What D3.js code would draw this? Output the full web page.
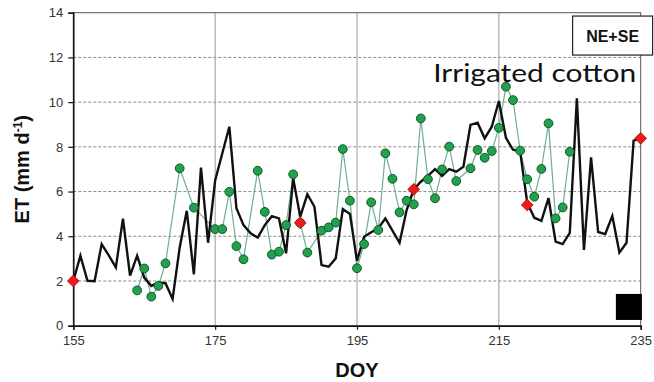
<!DOCTYPE html>
<html>
<head>
<meta charset="utf-8">
<script src="https://cdn.jsdelivr.net/npm/d3@7"></script>
<style>
	body { margin: 0; background: #fff; }
	.tick-label { font-family: "Liberation Sans", Arial, sans-serif; font-size: 13px; fill: #333; }
	.axis-label { font-family: "Liberation Sans", Arial, sans-serif; font-weight: bold; font-size: 20px; fill: #111; }
</style>
</head>
<body>
<div id="chart"></div>
<script>
// daily ET (black line)
const lineDays = [155, 156, 157, 158, 159, 160, 161, 162, 163, 164, 165, 166, 167, 168, 169, 170, 171, 172, 173, 174,
	175, 176, 177, 178, 179, 180, 181, 182, 183, 184, 185, 186, 187, 188, 189, 190, 191, 192, 193, 194,
	195, 196, 197, 198, 199, 200, 201, 202, 203, 204, 205, 206, 207, 208, 209, 210, 211, 212, 213, 214,
	215, 216, 217, 218, 219, 220, 221, 222, 223, 224, 225, 226, 227, 228, 229, 230, 231, 232, 233, 234, 235];
const lineET = [2.0, 3.13, 2.01, 1.99, 3.65, 3.15, 2.61, 4.79, 2.24, 3.13, 2.15, 1.78, 1.93, 1.9, 1.2, 3.5, 5.14, 2.3, 7.07, 3.71,
	6.5, 7.7, 8.9, 5.25, 4.5, 4.13, 3.94, 4.5, 4.9, 4.8, 3.24, 6.59, 4.88, 5.88, 5.32, 2.71, 2.64, 3.01, 5.22, 5.0,
	2.9, 3.98, 4.18, 4.36, 4.8, 4.25, 3.71, 5.17, 6.1, 6.44, 6.7, 7.0, 6.7, 7.0, 6.89, 7.11, 8.98, 9.08, 8.38, 8.9,
	10.05, 8.4, 7.87, 7.8, 5.5, 4.83, 4.69, 5.71, 3.76, 3.65, 4.15, 10.17, 3.39, 7.53, 4.19, 4.1, 4.91, 3.27, 3.71, 8.28, 8.38];

// green circles
const pointDays = [164, 165, 166, 167, 168, 170, 172, 175, 176, 177, 178, 179, 181, 182, 183, 184, 185, 186, 187, 188,
	190, 191, 192, 193, 194, 195, 196, 197, 198, 199, 200, 201, 202, 203, 204, 205, 206, 207, 208, 209,
	211, 212, 213, 214, 215, 216, 217, 218, 219, 220, 221, 222, 223, 224, 225];
const pointET = [1.58, 2.56, 1.3, 1.78, 2.79, 7.04, 5.28, 4.32, 4.32, 5.99, 3.56, 2.97, 6.93, 5.09, 3.18, 3.31, 4.5, 6.77, 4.6, 3.27,
	4.25, 4.4, 4.61, 7.9, 5.59, 2.57, 3.65, 5.52, 4.28, 7.71, 6.57, 5.07, 5.59, 5.43, 9.27, 6.55, 5.7, 6.99, 8.01, 6.47,
	7.04, 7.86, 7.51, 7.81, 8.85, 10.69, 10.09, 7.83, 6.55, 5.77, 7.01, 9.05, 4.8, 5.29, 7.78];

// red diamonds
const diamondDays = [155, 187, 203, 219, 235];
const diamondET = [2.0, 4.6, 6.1, 5.4, 8.38];

const xTickValues = [155, 175, 195, 215, 235];
const yTickValues = [0, 2, 4, 6, 8, 10, 12, 14];
const xGridValues = [175, 195, 215];
const yGridValues = [2, 4, 6, 8, 10, 12];

const width = 654, height = 382;
const margin = { top: 12.7, right: 13.3, bottom: 56.3, left: 73.3 };
const innerW = width - margin.left - margin.right;
const innerH = height - margin.top - margin.bottom;

const svg = d3.select('#chart').append('svg')
	.attr('width', width)
	.attr('height', height);

const g = svg.append('g').attr('transform', `translate(${margin.left}, ${margin.top})`);

// scales
const xScale = d3.scaleLinear().domain([155, 235]).range([0, innerW]);
const yScale = d3.scaleLinear().domain([0, 14]).range([innerH, 0]);

// gridlines
g.selectAll('.hgrid')
	.data(yGridValues)
	.join('line')
	.attr('class', 'hgrid')
	.attr('x1', 0).attr('x2', innerW)
	.attr('y1', d => yScale(d)).attr('y2', d => yScale(d))
	.attr('stroke', '#8a8a8a')
	.attr('stroke-width', 1)
	.attr('stroke-dasharray', '3,2');

g.selectAll('.vgrid')
	.data(xGridValues)
	.join('line')
	.attr('class', 'vgrid')
	.attr('x1', d => xScale(d)).attr('x2', d => xScale(d))
	.attr('y1', 0).attr('y2', innerH)
	.attr('stroke', '#9a9a9a')
	.attr('stroke-width', 1);

// frame (top / right)
g.append('rect')
	.attr('width', innerW)
	.attr('height', innerH)
	.attr('fill', 'none')
	.attr('stroke', '#555')
	.attr('stroke-width', 1);

// axes
const xAxis = d3.axisBottom(xScale).tickValues(xTickValues).tickSize(4).tickPadding(6).tickFormat(d3.format('d'));
const yAxis = d3.axisLeft(yScale).tickValues(yTickValues).tickSize(5).tickPadding(5);

const xAxisG = g.append('g').attr('transform', `translate(0, ${innerH})`).call(xAxis);
const yAxisG = g.append('g').call(yAxis);

[xAxisG, yAxisG].forEach(ax => {
	ax.select('.domain').attr('stroke', '#111').attr('stroke-width', 1.5);
	ax.selectAll('.tick line').attr('stroke', '#111').attr('stroke-width', 1.2);
	ax.selectAll('.tick text').attr('class', 'tick-label').attr('fill', null);
});

// green line + circles
const lineGen = d3.line().x(d => xScale(d[0])).y(d => yScale(d[1]));
const points = pointDays.map((d, i) => [d, pointET[i]]);
const daily = lineDays.map((d, i) => [d, lineET[i]]);

g.append('path')
	.datum(points)
	.attr('fill', 'none')
	.attr('stroke', '#6fae92')
	.attr('stroke-width', 1.2)
	.attr('d', lineGen);

// black daily line
g.append('path')
	.datum(daily)
	.attr('fill', 'none')
	.attr('stroke', '#111')
	.attr('stroke-width', 2.4)
	.attr('stroke-linejoin', 'miter')
	.attr('d', lineGen);

g.selectAll('.pt')
	.data(points)
	.join('circle')
	.attr('class', 'pt')
	.attr('cx', d => xScale(d[0]))
	.attr('cy', d => yScale(d[1]))
	.attr('r', 4.4)
	.attr('fill', '#22a04e')
	.attr('stroke', '#0d5a28')
	.attr('stroke-width', 1);

// red diamonds (drawn on top)
const diamonds = diamondDays.map((d, i) => [d, diamondET[i]]);
g.selectAll('.dm')
	.data(diamonds)
	.join('path')
	.attr('class', 'dm')
	.attr('d', d3.symbol().type(d3.symbolDiamond2).size(88))
	.attr('transform', d => `translate(${xScale(d[0])}, ${yScale(d[1])})`)
	.attr('fill', '#ec1c1c')
	.attr('stroke', '#b00000')
	.attr('stroke-width', 0.8);

// axis labels
svg.append('text')
	.attr('class', 'axis-label')
	.attr('transform', `translate(28.5, ${margin.top + innerH / 2}) rotate(-90)`)
	.attr('text-anchor', 'middle')
	.html('ET (mm d<tspan dy="-7" font-size="12">-1</tspan><tspan dy="7">)</tspan>');

svg.append('text')
	.attr('class', 'axis-label')
	.attr('x', margin.left + innerW / 2)
	.attr('y', 377)
	.attr('text-anchor', 'middle')
	.text('DOY');

// NE+SE box
g.append('rect')
	.attr('x', xScale(225.4)).attr('y', yScale(13.85))
	.attr('width', 80).attr('height', 39)
	.attr('fill', '#fff')
	.attr('stroke', '#222')
	.attr('stroke-width', 1.2);
g.append('text')
	.attr('x', xScale(225.4) + 40).attr('y', yScale(13.85) + 26)
	.attr('text-anchor', 'middle')
	.attr('font-family', '"Liberation Sans", Arial, sans-serif')
	.attr('font-weight', 'bold')
	.attr('font-size', 16)
	.attr('fill', '#111')
	.text('NE+SE');

// title text
g.append('text')
	.attr('x', innerW - 4.5)
	.attr('y', yScale(10.92))
	.attr('text-anchor', 'end')
	.attr('font-family', '"URW Gothic", "Century Gothic", Lato, "DejaVu Sans", sans-serif')
	.attr('font-size', 25)
	.attr('fill', '#111')
	.attr('textLength', 203)
	.attr('lengthAdjust', 'spacingAndGlyphs')
	.text('Irrigated cotton');

// black square
g.append('rect')
	.attr('x', xScale(231.5)).attr('y', yScale(1.42))
	.attr('width', 26).attr('height', 26)
	.attr('fill', '#000');
</script>
</body>
</html>
